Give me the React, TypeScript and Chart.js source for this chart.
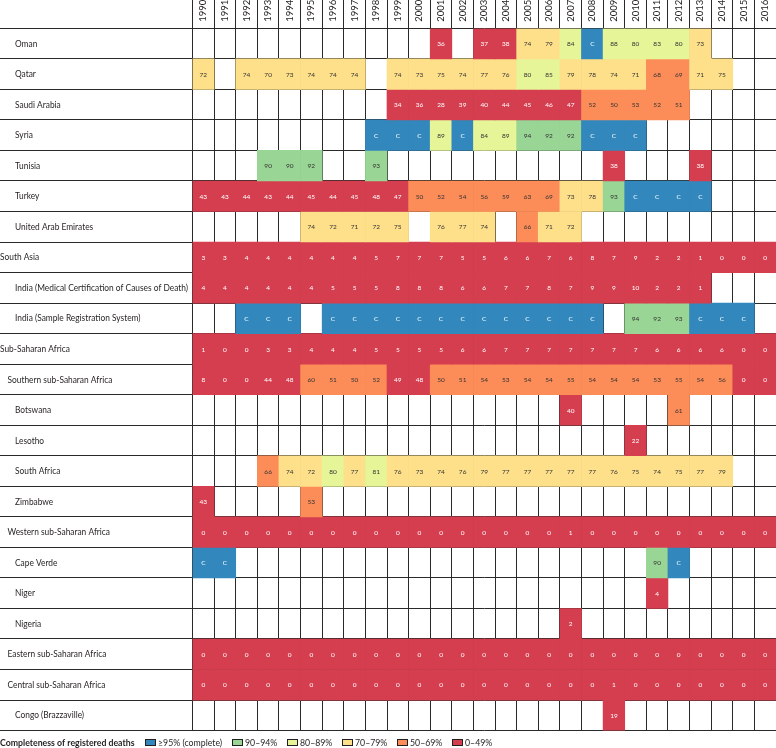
import React, { useEffect, useRef } from 'react';
import { Chart, registerables } from 'chart.js';

Chart.register(...registerables);

type Cell = number | 'C' | null;
const _ = null;

const years = ['1990', '1991', '1992', '1993', '1994', '1995', '1996', '1997', '1998', '1999', '2000', '2001', '2002', '2003', '2004', '2005', '2006', '2007', '2008', '2009', '2010', '2011', '2012', '2013', '2014', '2015', '2016'];

const rowLabels = [
  'Oman', 'Qatar', 'Saudi Arabia', 'Syria', 'Tunisia', 'Turkey', 'United Arab Emirates',
  'South Asia', 'India (Medical Certification of Causes of Death)', 'India (Sample Registration System)',
  'Sub-Saharan Africa', 'Southern sub-Saharan Africa', 'Botswana', 'Lesotho', 'South Africa', 'Zimbabwe',
  'Western sub-Saharan Africa', 'Cape Verde', 'Niger', 'Nigeria',
  'Eastern sub-Saharan Africa', 'Central sub-Saharan Africa', 'Congo (Brazzaville)',
];
// 0 = super-region, 1 = region, 2 = country
const rowLevels = [2, 2, 2, 2, 2, 2, 2, 0, 2, 2, 0, 1, 2, 2, 2, 2, 1, 2, 2, 2, 1, 1, 2];

const oman: Cell[] = [_, _, _, _, _, _, _, _, _, _, _, 36, _, 37, 38, 74, 79, 84, 'C', 88, 80, 83, 80, 73, _, _, _];
const qatar: Cell[] = [72, _, 74, 70, 73, 74, 74, 74, _, 74, 73, 75, 74, 77, 76, 80, 85, 79, 78, 74, 71, 68, 69, 71, 75, _, _];
const saudiArabia: Cell[] = [_, _, _, _, _, _, _, _, _, 34, 36, 28, 39, 40, 44, 45, 46, 47, 52, 50, 53, 52, 51, _, _, _, _];
const syria: Cell[] = [_, _, _, _, _, _, _, _, 'C', 'C', 'C', 89, 'C', 84, 89, 94, 92, 92, 'C', 'C', 'C', _, _, _, _, _, _];
const tunisia: Cell[] = [_, _, _, 90, 90, 92, _, _, 93, _, _, _, _, _, _, _, _, _, _, 38, _, _, _, 38, _, _, _];
const turkey: Cell[] = [43, 43, 44, 43, 44, 45, 44, 45, 48, 47, 50, 52, 54, 56, 59, 63, 69, 73, 78, 93, 'C', 'C', 'C', 'C', _, _, _];
const uae: Cell[] = [_, _, _, _, _, 74, 72, 71, 72, 75, _, 76, 77, 74, _, 66, 71, 72, _, _, _, _, _, _, _, _, _];
const southAsia: Cell[] = [3, 3, 4, 4, 4, 4, 4, 4, 5, 7, 7, 7, 5, 5, 6, 6, 7, 6, 8, 7, 9, 2, 2, 1, 0, 0, 0];
const indiaMCCD: Cell[] = [4, 4, 4, 4, 4, 4, 5, 5, 5, 8, 8, 8, 6, 6, 7, 7, 8, 7, 9, 9, 10, 2, 2, 1, _, _, _];
const indiaSRS: Cell[] = [_, _, 'C', 'C', 'C', _, 'C', 'C', 'C', 'C', 'C', 'C', 'C', 'C', 'C', 'C', 'C', 'C', 'C', _, 94, 92, 93, 'C', 'C', 'C', _];
const subSaharan: Cell[] = [1, 0, 0, 3, 3, 4, 4, 4, 5, 5, 5, 5, 6, 6, 7, 7, 7, 7, 7, 7, 7, 6, 6, 6, 6, 0, 0];
const southernSSA: Cell[] = [8, 0, 0, 44, 48, 60, 51, 50, 52, 49, 48, 50, 51, 54, 53, 54, 54, 55, 54, 54, 54, 53, 55, 54, 56, 0, 0];
const botswana: Cell[] = [_, _, _, _, _, _, _, _, _, _, _, _, _, _, _, _, _, 40, _, _, _, _, 61, _, _, _, _];
const lesotho: Cell[] = [_, _, _, _, _, _, _, _, _, _, _, _, _, _, _, _, _, _, _, _, 22, _, _, _, _, _, _];
const southAfrica: Cell[] = [_, _, _, 66, 74, 72, 80, 77, 81, 76, 73, 74, 76, 79, 77, 77, 77, 77, 77, 76, 75, 74, 75, 77, 79, _, _];
const zimbabwe: Cell[] = [43, _, _, _, _, 53, _, _, _, _, _, _, _, _, _, _, _, _, _, _, _, _, _, _, _, _, _];
const westernSSA: Cell[] = [0, 0, 0, 0, 0, 0, 0, 0, 0, 0, 0, 0, 0, 0, 0, 0, 0, 1, 0, 0, 0, 0, 0, 0, 0, 0, 0];
const capeVerde: Cell[] = ['C', 'C', _, _, _, _, _, _, _, _, _, _, _, _, _, _, _, _, _, _, _, 90, 'C', _, _, _, _];
const niger: Cell[] = [_, _, _, _, _, _, _, _, _, _, _, _, _, _, _, _, _, _, _, _, _, 4, _, _, _, _, _];
const nigeria: Cell[] = [_, _, _, _, _, _, _, _, _, _, _, _, _, _, _, _, _, 2, _, _, _, _, _, _, _, _, _];
const easternSSA: Cell[] = [0, 0, 0, 0, 0, 0, 0, 0, 0, 0, 0, 0, 0, 0, 0, 0, 0, 0, 0, 0, 0, 0, 0, 0, 0, 0, 0];
const centralSSA: Cell[] = [0, 0, 0, 0, 0, 0, 0, 0, 0, 0, 0, 0, 0, 0, 0, 0, 0, 0, 0, 1, 0, 0, 0, 0, 0, 0, 0];
const congo: Cell[] = [_, _, _, _, _, _, _, _, _, _, _, _, _, _, _, _, _, _, _, 19, _, _, _, _, _, _, _];

const rows: Cell[][] = [
  oman, qatar, saudiArabia, syria, tunisia, turkey, uae,
  southAsia, indiaMCCD, indiaSRS,
  subSaharan, southernSSA, botswana, lesotho, southAfrica, zimbabwe,
  westernSSA, capeVerde, niger, nigeria,
  easternSSA, centralSSA, congo,
];

const legendTitle = 'Completeness of registered deaths';
const legendLabels = ['\u226595% (complete)', '90\u201394%', '80\u201389%', '70\u201379%', '50\u201369%', '0\u201349%'];
const legendColors = ['#3288bd', '#99d594', '#e6f598', '#fee08b', '#fc8d59', '#d53e4f'];

const FAMILY = 'Lato, "Noto Sans", sans-serif';
const LINE = '#2a2a2a';
const TEXT = '#231f20';
const W = 776;
const H = 748;
const HEADER_H = 28.3;
const LABEL_W = 192.5;
const BOTTOM_PAD = 17.4;
const INDENTS = [0, 7.5, 15];
const ROW_SQUEEZE = 0.88;
const LEGEND_SQUEEZE = 0.92;
const YEAR_FONT = 9.5;

function bandIndex(v: Cell): number {
  if (v === 'C') return 0;
  const n = v as number;
  if (n >= 95) return 0;
  if (n >= 90) return 1;
  if (n >= 80) return 2;
  if (n >= 70) return 3;
  if (n >= 50) return 4;
  return 5;
}

function textColor(v: Cell): string {
  const b = bandIndex(v);
  return b === 0 || b === 5 ? '#ffffff' : '#333333';
}

function squeezedText(ctx: CanvasRenderingContext2D, text: string, x: number, y: number, sx: number) {
  ctx.save();
  ctx.translate(x, y);
  ctx.scale(sx, 1);
  ctx.fillText(text, 0, 0);
  ctx.restore();
}

const tablePlugin = {
  id: 'tableText',
  afterDraw(chart: any) {
    const ctx: CanvasRenderingContext2D = chart.ctx;
    const yScale = chart.scales.y;
    ctx.save();
    // row labels
    ctx.font = `9.5px ${FAMILY}`;
    ctx.fillStyle = TEXT;
    ctx.textBaseline = 'middle';
    ctx.textAlign = 'left';
    rowLabels.forEach((lab, r) => {
      const y = yScale.getPixelForValue(r + 0.5);
      squeezedText(ctx, lab, INDENTS[rowLevels[r]], y, ROW_SQUEEZE);
    });
    // cell values
    ctx.font = `6.5px ${FAMILY}`;
    ctx.textAlign = 'center';
    rows.forEach((row, r) => {
      const meta = chart.getDatasetMeta(r);
      row.forEach((v, i) => {
        if (v === null) return;
        const el = meta.data[i];
        if (!el) return;
        const cy = (el.y + el.base) / 2;
        ctx.fillStyle = textColor(v);
        ctx.fillText(String(v), el.x, cy + 0.5);
      });
    });
    // legend
    const ly = yScale.bottom + 12;
    ctx.textAlign = 'left';
    ctx.font = `bold 9.5px ${FAMILY}`;
    ctx.fillStyle = TEXT;
    squeezedText(ctx, legendTitle, 0, ly, LEGEND_SQUEEZE);
    let x = ctx.measureText(legendTitle).width * LEGEND_SQUEEZE + 10;
    ctx.font = `9.5px ${FAMILY}`;
    legendLabels.forEach((lab, k) => {
      const bx = Math.round(x);
      ctx.fillStyle = legendColors[k];
      ctx.fillRect(bx, Math.round(ly - 3.5), 11, 7);
      ctx.strokeStyle = TEXT;
      ctx.lineWidth = 1;
      ctx.strokeRect(bx + 0.5, Math.round(ly - 3.5) + 0.5, 10, 6);
      ctx.fillStyle = TEXT;
      squeezedText(ctx, lab, bx + 13, ly, LEGEND_SQUEEZE);
      x = bx + 13 + ctx.measureText(lab).width * LEGEND_SQUEEZE + 10;
    });
    ctx.restore();
  },
};

export default function App() {
  const ref = useRef<HTMLCanvasElement | null>(null);
  useEffect(() => {
    if (!ref.current) return;
    const datasets = rows.map((row, r) => ({
      label: rowLabels[r],
      data: row.map((v) => (v === null ? null : [r, r + 1])),
      backgroundColor: row.map((v) => (v === null ? 'rgba(0,0,0,0)' : legendColors[bandIndex(v)])),
      borderWidth: 0,
      grouped: false,
      barPercentage: 1,
      categoryPercentage: 1,
    }));
    const chart = new Chart(ref.current, {
      type: 'bar',
      data: { labels: years, datasets: datasets as any },
      options: {
        responsive: false,
        animation: false,
        devicePixelRatio: 1,
        layout: { padding: { top: 0, left: 0, right: 0, bottom: BOTTOM_PAD } },
        plugins: { legend: { display: false }, tooltip: { enabled: false } },
        scales: {
          x: {
            type: 'category',
            position: 'top',
            offset: true,
            z: 1,
            grid: { offset: true, color: LINE, lineWidth: 1, drawTicks: true, tickLength: HEADER_H, tickColor: LINE },
            border: { display: false },
            ticks: {
              autoSkip: false,
              minRotation: 90,
              maxRotation: 90,
              padding: -(HEADER_H - 6.5),
              labelOffset: YEAR_FONT * 1.2,
              color: TEXT,
              font: { family: FAMILY, size: YEAR_FONT, lineHeight: 1.2 },
            },
            afterFit: (s: any) => { s.height = HEADER_H; },
          },
          y: {
            type: 'linear',
            min: 0,
            max: rows.length,
            reverse: true,
            z: 1,
            ticks: { stepSize: 1, display: false },
            grid: { color: LINE, lineWidth: 1, drawTicks: true, tickLength: LABEL_W, tickColor: LINE },
            border: { display: true, color: LINE },
            afterFit: (s: any) => { s.width = LABEL_W; },
          },
        },
      } as any,
      plugins: [tablePlugin],
    });
    return () => chart.destroy();
  }, []);
  return (
    <div style={{ position: 'absolute', left: 0, top: 0, width: W, height: H, background: '#fff' }}>
      <canvas ref={ref} width={W} height={H} style={{ display: 'block', width: W, height: H }} />
    </div>
  );
}
